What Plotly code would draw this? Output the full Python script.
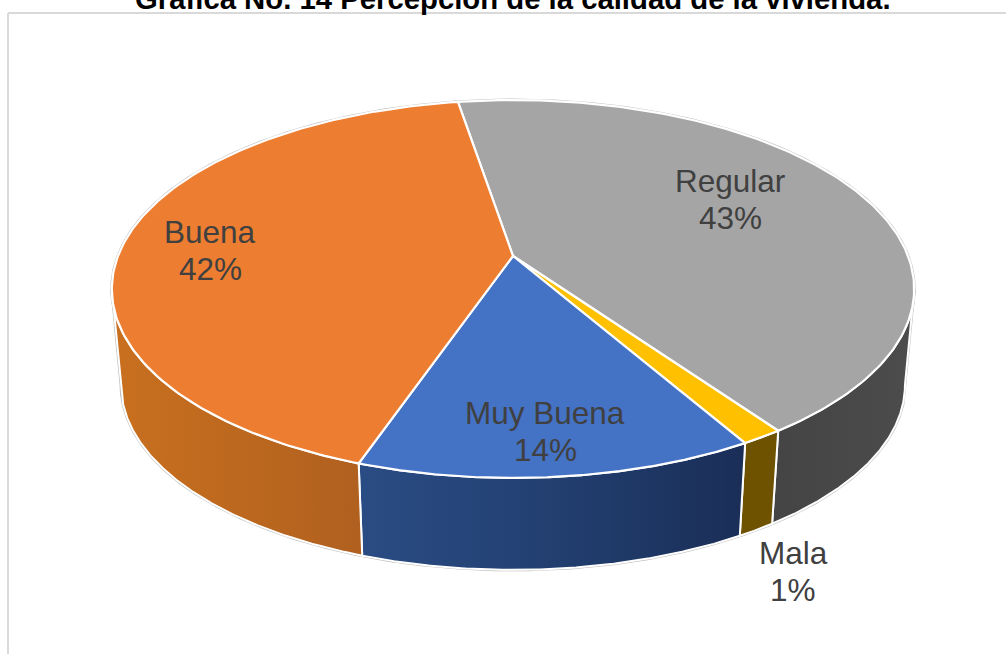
import numpy as np
import plotly.graph_objects as go

categories = ["Regular", "Mala", "Muy Buena", "Buena"]
values = [42.85, 1.45, 13.6, 42.1]
top_colors = ["#A5A5A5", "#FFC000", "#4472C4", "#ED7D31"]
side_scales = [
    [[0, "#444444"], [1, "#4C4C4C"]],
    [[0, "#6E5200"], [1, "#6E5200"]],
    [[0, "#2A4C84"], [0.5, "#223F70"], [1, "#1A2E57"]],
    [[0, "#C9701F"], [1, "#B0601F"]],
]
title_text = "Gráfica No. 14 Percepción de la calidad de la vivienda."
label_pos = [(730, 181), (793, 553), (545, 413), (210, 232)]
start_angle = -9.4

FONT = "Liberation Sans, Arial, sans-serif"
CX, CY, A, B, K = 513, 256, 395, 183.2, 0.1746
DROP, SHRINK = 97, 0.977
TANGENT = np.degrees(np.arccos(-K))  # where the rim is widest on screen


def project(theta, lower=False):
    th = np.radians(theta)
    X, Y = np.sin(th), -np.cos(th)
    w = 1 - K * Y
    s = SHRINK if lower else 1
    d = DROP if lower else 0
    return CX + s * A * X / w, CY + d + s * B * Y / w


shares = np.array(values) / sum(values) * 360
edges = start_angle + np.concatenate([[0], np.cumsum(shares)])

fig = go.Figure()


def add(x, y, **kw):
    fig.add_trace(go.Scatter(x=x, y=y, mode="lines", showlegend=False, hoverinfo="skip", **kw))


# thin grey rim round the whole solid
full = np.linspace(0, 360, 721)
tx, ty = project(full)
add(tx, ty, line=dict(color="#BDBDBD", width=3))
front = np.linspace(TANGENT, 360 - TANGENT, 400)
fx, fy = project(front, lower=True)
r0x, r0y = project(np.array([TANGENT]))
r1x, r1y = project(np.array([360 - TANGENT]))
add(np.r_[r0x, fx, r1x], np.r_[r0y, fy, r1y], line=dict(color="#BDBDBD", width=3))

# side walls: only the part of each slice facing the viewer
for i in range(4):
    lo = max(edges[i], TANGENT)
    hi = min(edges[i + 1], 360 - TANGENT)
    if hi <= lo:
        continue
    th = np.linspace(lo, hi, 200)
    ax, ay = project(th)
    bx, by = project(th[::-1], lower=True)
    add(np.r_[ax, bx, ax[0]], np.r_[ay, by, ay[0]],
        line=dict(color="white", width=2), fill="toself",
        fillgradient=dict(type="horizontal", colorscale=side_scales[i]))

# top faces
for i in range(4):
    th = np.linspace(edges[i], edges[i + 1], 200)
    ax, ay = project(th)
    add(np.r_[CX, ax, CX], np.r_[CY, ay, CY],
        line=dict(color="white", width=2.2), fill="toself", fillcolor=top_colors[i])

annotations = [dict(x=0.51, y=1, xref="paper", yref="paper", text="<b>%s</b>" % title_text, showarrow=False,
                    font=dict(family=FONT, size=29.3, color="#000000"), yanchor="middle", yshift=2)]
for name, v, (px, py) in zip(categories, values, label_pos):
    annotations.append(dict(x=px, y=py, xref="x", yref="y", text=name, showarrow=False,
                            font=dict(family=FONT, size=31.5, color="#404040")))
    annotations.append(dict(x=px, y=py + 37, xref="x", yref="y", text="%d%%" % round(v), showarrow=False,
                            font=dict(family=FONT, size=31.5, color="#404040")))

frame = [
    dict(type="line", x0=8, x1=8, y0=13, y1=654, line=dict(color="#D9D9D9", width=2)),
    dict(type="line", x0=8, x1=1006, y0=13, y1=13, line=dict(color="#D9D9D9", width=2)),
]

fig.update_layout(
    width=1006, height=655, margin=dict(l=0, r=0, t=0, b=0),
    paper_bgcolor="white", plot_bgcolor="white",
    xaxis=dict(range=[0, 1006], visible=False, fixedrange=True),
    yaxis=dict(range=[655, 0], visible=False, fixedrange=True),
    annotations=annotations, shapes=frame,
)
fig.write_html("out.html", config=dict(displayModeBar=False),
               post_script="document.body.style.margin='0';document.body.style.overflow='hidden';")
